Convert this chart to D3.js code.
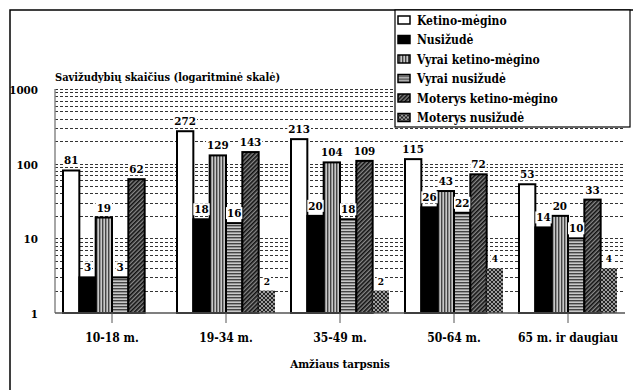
<!DOCTYPE html>
<html>
<head>
<meta charset="utf-8">
<script src="https://cdn.jsdelivr.net/npm/d3@7"></script>
<style>
  body { margin: 0; background: #fff; }
</style>
</head>
<body>
<div id="chart"></div>
<script>
// Data
let categories = ['10-18 m.', '19-34 m.', '35-49 m.', '50-64 m.', '65 m. ir daugiau'];
let seriesNames = ['Ketino-mėgino', 'Nusižudė', 'Vyrai ketino-mėgino', 'Vyrai nusižudė', 'Moterys ketino-mėgino', 'Moterys nusižudė'];
let ketinoMegino = [81, 272, 213, 115, 53];
let nusizude = [3, 18, 20, 26, 14];
let vyraiKetino = [19, 129, 104, 43, 20];
let vyraiNusizude = [3, 16, 18, 22, 10];
let moterysKetino = [62, 143, 109, 72, 33];
let moterysNusizude = [null, 2, 2, 4, 4];
let yTicks = [1, 10, 100, 1000];

let seriesValues = [ketinoMegino, nusizude, vyraiKetino, vyraiNusizude, moterysKetino, moterysNusizude];
let fills = ['#fff', '#000', 'url(#vstripe)', 'url(#hstripe)', 'url(#diag)', 'url(#check)'];

let W = 633, H = 390;
let plot = { left: 55, right: 625, top: 89, bottom: 313 };
let fs = 12;

let svg = d3.select('#chart').append('svg')
    .attr('width', W)
    .attr('height', H)
    .attr('font-family', "'DejaVu Serif Condensed', 'DejaVu Serif', serif")
    .attr('font-weight', 'bold');

// Patterns
let defs = svg.append('defs');
let p1 = defs.append('pattern').attr('id', 'vstripe').attr('patternUnits', 'userSpaceOnUse')
    .attr('width', 3).attr('height', 3);
p1.append('rect').attr('width', 3).attr('height', 3).attr('fill', '#c8c8c8');
p1.append('rect').attr('width', 1.4).attr('height', 3).attr('fill', '#444');

let p2 = defs.append('pattern').attr('id', 'hstripe').attr('patternUnits', 'userSpaceOnUse')
    .attr('width', 3).attr('height', 3);
p2.append('rect').attr('width', 3).attr('height', 3).attr('fill', '#c8c8c8');
p2.append('rect').attr('width', 3).attr('height', 1.4).attr('fill', '#444');

let p3 = defs.append('pattern').attr('id', 'diag').attr('patternUnits', 'userSpaceOnUse')
    .attr('width', 3).attr('height', 3).attr('patternTransform', 'rotate(45)');
p3.append('rect').attr('width', 3).attr('height', 3).attr('fill', '#888');
p3.append('rect').attr('width', 1.6).attr('height', 3).attr('fill', '#111');

let p4 = defs.append('pattern').attr('id', 'check').attr('patternUnits', 'userSpaceOnUse')
    .attr('width', 4).attr('height', 4);
p4.append('rect').attr('width', 4).attr('height', 4).attr('fill', '#222');
[[2, 2], [0, 0], [4, 0], [0, 4], [4, 4]].forEach(function (c) {
    p4.append('circle').attr('cx', c[0]).attr('cy', c[1]).attr('r', 1.1).attr('fill', '#bbb');
});

// Outer frame (left and top edges)
svg.append('path')
    .attr('d', 'M10,' + H + 'V10H' + W)
    .attr('fill', 'none').attr('stroke', '#000').attr('stroke-width', 1.5);

// Scales
let x0 = d3.scaleBand().domain(categories).range([plot.left, plot.right]);
let x1 = d3.scaleBand().domain(seriesNames).range([8, 106]);
let y = d3.scaleLog().domain([1, 1000]).range([plot.bottom, plot.top]);

// Gridlines at every minor log tick
let gridVals = y.ticks().filter(function (v) { return v > 1; });
svg.append('g').selectAll('line')
    .data(gridVals)
    .enter().append('line')
    .attr('x1', plot.left).attr('x2', plot.right)
    .attr('y1', function (d) { return Math.round(y(d)) + 0.5; })
    .attr('y2', function (d) { return Math.round(y(d)) + 0.5; })
    .attr('stroke', '#333').attr('stroke-width', 1)
    .attr('stroke-dasharray', '3,2');

// Y axis line
svg.append('line')
    .attr('x1', plot.left).attr('x2', plot.left)
    .attr('y1', plot.top).attr('y2', plot.bottom)
    .attr('stroke', '#888').attr('stroke-width', 1.5);

// Y tick labels
svg.append('g').selectAll('text')
    .data(yTicks)
    .enter().append('text')
    .attr('x', 38)
    .attr('y', function (d) { return y(d) + 5; })
    .attr('text-anchor', 'end')
    .attr('font-size', 11.5)
    .text(function (d) { return d; });

// Y axis title
svg.append('text')
    .attr('x', 55).attr('y', 81)
    .attr('font-size', 11)
    .text('Savižudybių skaičius (logaritminė skalė)');

// Bars
let barData = [];
categories.forEach(function (c, i) {
    seriesNames.forEach(function (s, j) {
        let v = seriesValues[j][i];
        if (v != null) barData.push({ cat: c, series: s, idx: j, value: v });
    });
});

svg.append('g').selectAll('rect')
    .data(barData)
    .enter().append('rect')
    .attr('x', function (d) { return x0(d.cat) + x1(d.series); })
    .attr('y', function (d) { return y(d.value); })
    .attr('width', x1.bandwidth())
    .attr('height', function (d) { return plot.bottom - y(d.value); })
    .attr('fill', function (d) { return fills[d.idx]; })
    .attr('stroke', function (d) { return d.idx === 5 ? 'none' : '#000'; })
    .attr('stroke-width', 2);

// X axis
svg.append('line')
    .attr('x1', plot.left).attr('x2', plot.right)
    .attr('y1', plot.bottom).attr('y2', plot.bottom)
    .attr('stroke', '#555').attr('stroke-width', 1.5);

svg.append('g').selectAll('line')
    .data(categories)
    .enter().append('line')
    .attr('x1', function (d) { return x0(d) + x0.bandwidth() / 2; })
    .attr('x2', function (d) { return x0(d) + x0.bandwidth() / 2; })
    .attr('y1', plot.bottom).attr('y2', plot.bottom + 10)
    .attr('stroke', '#555').attr('stroke-width', 1);

svg.append('g').selectAll('text')
    .data(categories)
    .enter().append('text')
    .attr('x', function (d) { return x0(d) + x0.bandwidth() / 2; })
    .attr('y', 342)
    .attr('text-anchor', 'middle')
    .attr('font-size', fs)
    .text(function (d) { return d; });

svg.append('text')
    .attr('x', (plot.left + plot.right) / 2).attr('y', 368)
    .attr('text-anchor', 'middle')
    .attr('font-size', 11.5)
    .text('Amžiaus tarpsnis');

// Value labels with white background
let labels = svg.append('g').selectAll('g')
    .data(barData)
    .enter().append('g');

labels.append('text')
    .attr('x', function (d) { return x0(d.cat) + x1(d.series) + x1.bandwidth() / 2; })
    .attr('y', function (d) { return y(d.value) - 6; })
    .attr('text-anchor', 'middle')
    .attr('font-size', function (d) { return d.idx === 5 ? 10 : 11.5; })
    .text(function (d) { return d.value; })
    .each(function () {
        let b = this.getBBox();
        d3.select(this.parentNode).insert('rect', 'text')
            .attr('x', b.x - 1).attr('y', b.y + 1)
            .attr('width', b.width + 2).attr('height', b.height - 2)
            .attr('fill', '#fff');
    });

// Legend
let lg = svg.append('g');
lg.append('rect')
    .attr('x', 395).attr('y', 10)
    .attr('width', 235).attr('height', 117)
    .attr('fill', '#fff').attr('stroke', '#000').attr('stroke-width', 1.2);

let items = lg.selectAll('g.item')
    .data(seriesNames)
    .enter().append('g')
    .attr('transform', function (d, i) { return 'translate(0,' + (20 + i * 19.5) + ')'; });

items.append('rect')
    .attr('x', 398).attr('y', -4)
    .attr('width', 12).attr('height', 8)
    .attr('fill', function (d, i) { return fills[i]; })
    .attr('stroke', '#000').attr('stroke-width', 1.5);

items.append('text')
    .attr('x', 417).attr('y', 4.5)
    .attr('font-size', fs)
    .text(function (d) { return d; });
</script>
</body>
</html>
